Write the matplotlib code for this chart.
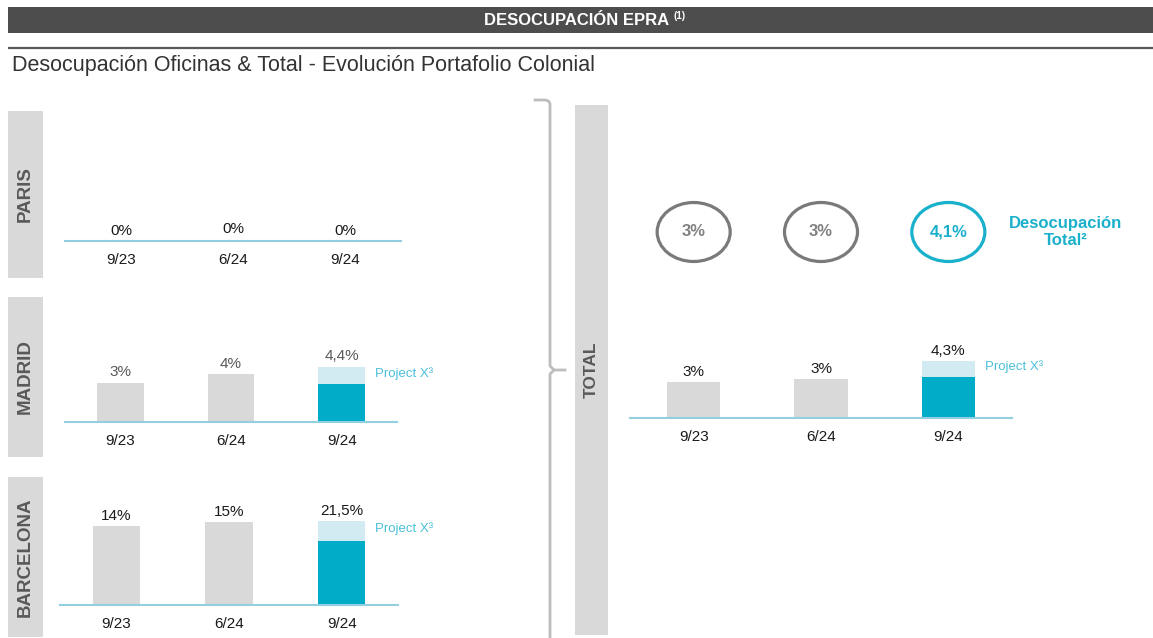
import matplotlib
matplotlib.use('Agg')
import matplotlib.pyplot as plt
from matplotlib.patches import Rectangle, Ellipse

plt.rcParams['font.family'] = ['Liberation Sans', 'DejaVu Sans']

# Data
dates = ['9/23', '6/24', '9/24']

paris_base = [0.0, 0.1, 0.0]
paris_projx = [0.0, 0.0, 0.0]
paris_labels = ['0%', '0%', '0%']

madrid_base = [3.1, 3.8, 3.0]
madrid_projx = [0.0, 0.0, 1.4]
madrid_labels = ['3%', '4%', '4,4%']

bcn_base = [14.1, 14.8, 11.4]
bcn_projx = [0.0, 0.0, 3.6]
bcn_labels = ['14%', '15%', '21,5%']

total_base = [2.7, 2.95, 3.1]
total_projx = [0.0, 0.0, 1.2]
total_labels = ['3%', '3%', '4,3%']

circle_labels = ['3%', '3%', '4,1%']

# Colours
GREY_BAR = '#d9d9d9'
CYAN = '#00acc8'
CYAN_LIGHT = '#d2eaf1'
CYAN_TEXT = '#4cc0d9'
BASELINE = '#92cfe0'
BOX = '#d9d9d9'
BOX_TEXT = '#595959'

W, H = 1153, 638
fig = plt.figure(figsize=(W / 100, H / 100), dpi=100)

# overlay in pixel coordinates for the decoration
ax0 = fig.add_axes([0, 0, 1, 1])
ax0.set_xlim(0, W)
ax0.set_ylim(H, 0)
ax0.axis('off')

ax0.add_patch(Rectangle((8, 7), W - 8, 26, color='#4d4d4d', lw=0))
ax0.text(669, 20.5, 'DESOCUPACIÓN EPRA', color='white', fontsize=12,
         fontweight='bold', ha='right', va='center')
ax0.text(673, 16, '(1)', color='white', fontsize=7, fontweight='bold',
         ha='left', va='center')
ax0.plot([8, W], [47.5, 47.5], color='#5a5a5a', lw=1.6, solid_capstyle='butt')
ax0.text(12, 66, 'Desocupación Oficinas & Total - Evolución Portafolio Colonial',
         fontsize=15.5, color='#333333', ha='left', va='center')

# side labels
for name, y0, y1, x0, x1, fs in [('PARIS', 111, 278, 8, 43, 13.5),
                                  ('MADRID', 297, 457, 8, 43, 13.5),
                                  ('BARCELONA', 477, 637, 8, 43, 13.5),
                                  ('TOTAL', 105, 635, 575, 608, 12.5)]:
    ax0.add_patch(Rectangle((x0, y0), x1 - x0, y1 - y0, color=BOX, lw=0))
    ax0.text((x0 + x1) / 2, (y0 + y1) / 2, name, rotation=90, fontsize=fs,
             fontweight='bold', color=BOX_TEXT, ha='center', va='center')

# bracket
bx = [535, 546, 549, 550, 550, 554, 565]
by = [100, 100, 101.5, 104, 366, 370, 370]
ax0.plot(bx, by, color='#bdbdbd', lw=2, solid_joinstyle='round')
ax0.plot([554, 550, 550], [370, 374, 640], color='#bdbdbd', lw=2,
         solid_joinstyle='round')


def bar_panel(left, right, base, top, scale, vals, projx, labels, label_color):
    ax = fig.add_axes([left / W, 1 - base / H, (right - left) / W, (base - top) / H])
    ax.patch.set_alpha(0)
    x = range(len(vals))
    colors = [GREY_BAR if p == 0 else CYAN for p in projx]
    ax.bar(x, vals, width=0.42, color=colors, zorder=2)
    ax.bar(x, projx, bottom=vals, width=0.42, color=CYAN_LIGHT, zorder=2)
    ax.axhline(0, color=BASELINE, lw=1.5, zorder=3, clip_on=False)
    ax.set_xlim(-0.5, 2.5)
    ax.set_ylim(0, (base - top) / scale)
    for s in ax.spines.values():
        s.set_visible(False)
    ax.set_yticks([])
    ax.set_xticks(list(x))
    ax.set_xticklabels(dates, fontsize=11, color='#1a1a1a')
    ax.tick_params(axis='x', length=0, pad=8.5)
    for i, (v, p, lab) in enumerate(zip(vals, projx, labels)):
        ax.annotate(lab, (i, v + p), xytext=(0, 2.5), textcoords='offset points',
                    ha='center', va='bottom', fontsize=11, color=label_color)
        if p > 0:
            ax.annotate('Project X³', (i + 0.21, v + p / 2), xytext=(7, 1.5),
                        textcoords='offset points', ha='left', va='center',
                        fontsize=9.5, color=CYAN_TEXT)
    return ax


bar_panel(65, 401, 241, 181, 12.0, paris_base, paris_projx, paris_labels, '#1a1a1a')
bar_panel(65, 397, 422, 322, 12.6, madrid_base, madrid_projx, madrid_labels, '#595959')
bar_panel(60, 398, 605, 485, 5.6, bcn_base, bcn_projx, bcn_labels, '#1a1a1a')
bar_panel(630, 1012, 418, 318, 13.2, total_base, total_projx, total_labels, '#1a1a1a')

# circles row above the total chart
axc = fig.add_axes([630 / W, 1 - 264 / H, 382 / W, 64 / H])
axc.set_xlim(-0.5, 2.5)
axc.set_ylim(0, 1)
axc.axis('off')
for i, lab in enumerate(circle_labels):
    col = '#19b0cb' if i == len(circle_labels) - 1 else '#7a7a7a'
    tcol = '#1ab0cc' if i == len(circle_labels) - 1 else '#808080'
    axc.add_patch(Ellipse((i, 0.5), width=73 / 127.3, height=59 / 64,
                          fill=False, edgecolor=col, lw=2.3))
    axc.text(i, 0.5, lab, ha='center', va='center', fontsize=12,
             fontweight='bold', color=tcol)

ax0.text(1066, 232, 'Desocupación\nTotal²', ha='center', va='center',
         fontsize=12, fontweight='bold', color='#1ab0cc', linespacing=1.1)

fig.savefig('out.png', dpi=100)
